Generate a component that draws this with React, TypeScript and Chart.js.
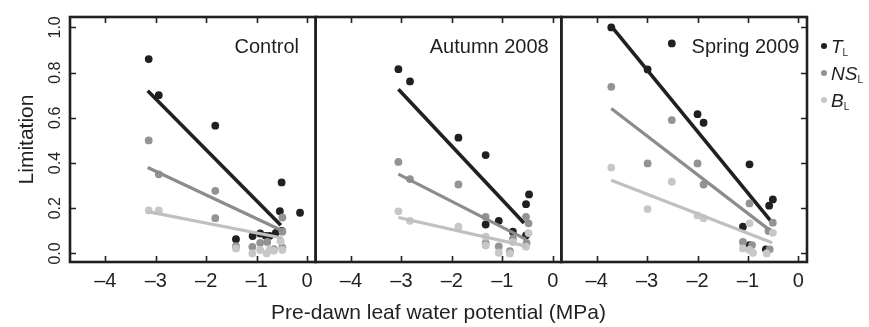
import React, { useEffect, useRef } from 'react';
import { Chart, registerables } from 'chart.js';
Chart.register(...registerables);

const FONT = '"Liberation Sans", Arial, Helvetica, sans-serif';
const INK = '#231f20';
const MID = '#929395';
const LIGHT = '#c6c7c9';
const MID_LINE = '#8b8c8e';
const LIGHT_LINE = '#bfc0c2';

const panelNames = ['Control', 'Autumn 2008', 'Spring 2009'];
const panelAxes = ['x1', 'x2', 'x3'];
const xTickValues = [-4, -3, -2, -1, 0];
const yTickValues = [0, 0.2, 0.4, 0.6, 0.8, 1.0];
const xTitle = 'Pre-dawn leaf water potential (MPa)';
const yTitle = 'Limitation';
const legendMain = ['T', 'NS', 'B'];
const legendSub = ['L', 'L', 'L'];

// ---- Control ----
const controlTx = [-3.14, -2.94, -1.82, -1.41, -1.08, -0.93, -0.82, -0.74, -0.62, -0.54, -0.505, -0.14, -0.5];
const controlTy = [0.86, 0.70, 0.565, 0.063, 0.077, 0.088, 0.078, 0.078, 0.091, 0.187, 0.314, 0.18, 0.10];
const controlNx = [-3.14, -2.94, -1.82, -1.82, -1.41, -1.085, -0.93, -0.79, -0.66, -0.49, -0.49, -0.49];
const controlNy = [0.50, 0.35, 0.277, 0.156, 0.032, 0.029, 0.047, 0.051, 0.019, 0.159, 0.096, 0.025];
const controlBx = [-3.14, -2.94, -1.41, -1.085, -0.93, -0.80, -0.74, -0.66, -0.525, -0.49];
const controlBy = [0.19, 0.19, 0.022, 0.0, 0.015, 0.0, 0.018, 0.012, 0.054, 0.015];
const controlTLineX = [-3.16, -0.52];
const controlTLineY = [0.72, 0.125];
const controlNLineX = [-3.16, -0.49];
const controlNLineY = [0.38, 0.10];
const controlBLineX = [-3.16, -0.49];
const controlBLineY = [0.185, 0.068];

// ---- Autumn 2008 ----
const autumnTx = [-3.06, -2.83, -1.87, -1.33, -1.33, -1.07, -0.79, -0.47, -0.53, -0.53];
const autumnTy = [0.815, 0.761, 0.512, 0.435, 0.128, 0.144, 0.096, 0.261, 0.218, 0.08];
const autumnNx = [-3.06, -2.83, -1.87, -1.33, -1.33, -1.07, -0.85, -0.79, -0.53, -0.48, -0.52];
const autumnNy = [0.405, 0.329, 0.305, 0.162, 0.045, 0.031, 0.01, 0.065, 0.162, 0.133, 0.046];
const autumnBx = [-3.06, -2.83, -1.87, -1.33, -1.33, -1.07, -0.85, -0.79, -0.48, -0.53];
const autumnBy = [0.186, 0.144, 0.118, 0.074, 0.035, 0.003, 0.0, 0.05, 0.09, 0.03];
const autumnTLineX = [-3.06, -0.57];
const autumnTLineY = [0.726, 0.135];
const autumnNLineX = [-3.06, -0.53];
const autumnNLineY = [0.351, 0.062];
const autumnBLineX = [-3.06, -0.53];
const autumnBLineY = [0.159, 0.032];

// ---- Spring 2009 ----
const springTx = [-3.71, -2.99, -2.51, -2.0, -1.88, -0.97, -1.10, -0.97, -0.58, -0.507, -0.645];
const springTy = [1.0, 0.814, 0.929, 0.616, 0.578, 0.394, 0.118, 0.037, 0.211, 0.239, 0.018];
const springNx = [-3.71, -2.99, -2.51, -2.0, -1.88, -0.97, -1.10, -0.92, -0.594, -0.507, -0.57];
const springNy = [0.737, 0.398, 0.59, 0.398, 0.305, 0.221, 0.051, 0.037, 0.099, 0.136, 0.018];
const springBx = [-3.71, -2.99, -2.51, -2.0, -1.88, -0.97, -1.10, -0.97, -0.9, -0.507, -0.63];
const springBy = [0.38, 0.196, 0.317, 0.168, 0.156, 0.133, 0.022, 0.015, 0.003, 0.091, 0.0];
const springTLineX = [-3.71, -0.55];
const springTLineY = [1.006, 0.144];
const springNLineX = [-3.71, -0.57];
const springNLineY = [0.641, 0.103];
const springBLineX = [-3.71, -0.52];
const springBLineY = [0.324, 0.047];

const X_MIN = -4.7;
const X_MAX = 0.17;
const Y_MIN = -0.038;
const Y_MAX = 1.046;

const panels = [
  {
    axis: 'x1',
    series: [
      { x: controlTx, y: controlTy, lx: controlTLineX, ly: controlTLineY },
      { x: controlNx, y: controlNy, lx: controlNLineX, ly: controlNLineY },
      { x: controlBx, y: controlBy, lx: controlBLineX, ly: controlBLineY },
    ],
  },
  {
    axis: 'x2',
    series: [
      { x: autumnTx, y: autumnTy, lx: autumnTLineX, ly: autumnTLineY },
      { x: autumnNx, y: autumnNy, lx: autumnNLineX, ly: autumnNLineY },
      { x: autumnBx, y: autumnBy, lx: autumnBLineX, ly: autumnBLineY },
    ],
  },
  {
    axis: 'x3',
    series: [
      { x: springTx, y: springTy, lx: springTLineX, ly: springTLineY },
      { x: springNx, y: springNy, lx: springNLineX, ly: springNLineY },
      { x: springBx, y: springBy, lx: springBLineX, ly: springBLineY },
    ],
  },
];

const seriesStyle = [
  { pt: INK, line: INK, w: 3.6 },
  { pt: MID, line: MID_LINE, w: 3.2 },
  { pt: LIGHT, line: LIGHT_LINE, w: 3.2 },
];

function buildDatasets() {
  const ds: any[] = [];
  panels.forEach((p) => {
    p.series.forEach((s, k) => {
      ds.push({
        type: 'scatter',
        xAxisID: p.axis,
        yAxisID: 'y',
        data: s.x.map((v, i) => ({ x: v, y: s.y[i] })),
        pointRadius: 3.9,
        pointHoverRadius: 3.9,
        pointBackgroundColor: seriesStyle[k].pt,
        pointBorderWidth: 0,
        borderWidth: 0,
        showLine: false,
        order: 6 - k * 2,
      });
      ds.push({
        type: 'scatter',
        xAxisID: p.axis,
        yAxisID: 'y',
        data: s.lx.map((v, i) => ({ x: v, y: s.ly[i] })),
        showLine: true,
        borderColor: seriesStyle[k].line,
        borderWidth: seriesStyle[k].w,
        pointRadius: 0,
        order: 5 - k * 2,
      });
    });
  });
  return ds;
}

const fmtX = (v: number) => (v === 0 ? '0' : (v < 0 ? '\u2013' : '') + Math.abs(v));

const labelAnchorX = [-0.16, -0.08, 0.02];

const overlay = {
  id: 'overlay',
  afterDatasetsDraw(chart: any) {
    const ctx = chart.ctx;
    const { top, bottom, left, right } = chart.chartArea;
    const y = chart.scales.y;
    ctx.save();
    ctx.strokeStyle = INK;
    ctx.fillStyle = INK;
    panelAxes.forEach((id, i) => {
      const s = chart.scales[id];
      ctx.lineWidth = 2.6;
      ctx.strokeRect(s.left, top, s.right - s.left, bottom - top);
      ctx.lineWidth = 1.6;
      xTickValues.forEach((v) => {
        const px = Math.round(s.getPixelForValue(v)) + 0.5;
        ctx.beginPath();
        ctx.moveTo(px, bottom);
        ctx.lineTo(px, bottom - 6);
        ctx.moveTo(px, top);
        ctx.lineTo(px, top + 6);
        ctx.stroke();
      });
      ctx.font = `20px ${FONT}`;
      ctx.textAlign = 'right';
      ctx.textBaseline = 'alphabetic';
      ctx.fillText(panelNames[i], s.getPixelForValue(labelAnchorX[i]), 53);
    });
    // y ticks inward: left of panel 1, right of panel 3
    const sL = chart.scales.x1;
    const sR = chart.scales.x3;
    ctx.lineWidth = 1.6;
    yTickValues.forEach((v) => {
      const py = Math.round(y.getPixelForValue(v)) + 0.5;
      ctx.beginPath();
      ctx.moveTo(sL.left, py);
      ctx.lineTo(sL.left + 6, py);
      ctx.moveTo(sR.right, py);
      ctx.lineTo(sR.right - 6, py);
      ctx.stroke();
    });
    // y tick labels (rotated)
    ctx.font = `16px ${FONT}`;
    ctx.textAlign = 'center';
    ctx.textBaseline = 'alphabetic';
    yTickValues.forEach((v) => {
      const py = y.getPixelForValue(v);
      ctx.save();
      ctx.translate(60, py);
      ctx.rotate(-Math.PI / 2);
      ctx.fillText(v.toFixed(1), 0, 0);
      ctx.restore();
    });
    // y title
    ctx.font = `21px ${FONT}`;
    ctx.save();
    ctx.translate(33, (top + bottom) / 2);
    ctx.rotate(-Math.PI / 2);
    ctx.fillText(yTitle, 0, 0);
    ctx.restore();
    // x title
    ctx.font = `21px ${FONT}`;
    ctx.textAlign = 'center';
    ctx.fillText(xTitle, (left + right) / 2, 319);
    // legend
    const cols = [INK, MID, LIGHT];
    const rowsY = [46, 73, 100];
    legendMain.forEach((m, i) => {
      ctx.fillStyle = cols[i];
      ctx.beginPath();
      ctx.arc(824, rowsY[i], 3, 0, Math.PI * 2);
      ctx.fill();
      ctx.fillStyle = INK;
      ctx.textAlign = 'left';
      ctx.font = `italic 19px ${FONT}`;
      const bx = 831;
      const by = rowsY[i] + 7;
      ctx.fillText(m, bx, by);
      const w = ctx.measureText(m).width;
      ctx.font = `10px ${FONT}`;
      ctx.fillText(legendSub[i], bx + w, by + 3);
    });
    ctx.restore();
  },
};

function xScale() {
  return {
    type: 'linear',
    position: 'bottom',
    stack: 'panels',
    stackWeight: 1,
    min: X_MIN,
    max: X_MAX,
    grid: { display: false, drawTicks: false },
    border: { display: false },
    afterBuildTicks: (s: any) => {
      s.ticks = xTickValues.map((v) => ({ value: v }));
    },
    afterFit: (s: any) => {
      s.height = 65;
    },
    ticks: {
      autoSkip: false,
      maxRotation: 0,
      minRotation: 0,
      padding: 7,
      color: INK,
      font: { family: FONT, size: 20 },
      callback: (v: any) => fmtX(Number(v)),
    },
    title: { display: false },
  };
}

export default function App() {
  const ref = useRef<HTMLCanvasElement>(null);
  useEffect(() => {
    if (!ref.current) return;
    const chart = new Chart(ref.current, {
      type: 'scatter',
      data: { datasets: buildDatasets() },
      options: {
        animation: false,
        responsive: false,
        devicePixelRatio: 1,
        events: [],
        layout: { padding: { left: 70, right: 62, top: 17, bottom: 0 } },
        plugins: { legend: { display: false }, tooltip: { enabled: false }, title: { display: false } },
        scales: {
          x1: xScale(),
          x2: xScale(),
          x3: xScale(),
          y: {
            type: 'linear',
            display: false,
            min: Y_MIN,
            max: Y_MAX,
          },
        } as any,
      },
      plugins: [overlay],
    } as any);
    return () => chart.destroy();
  }, []);
  return (
    <div style={{ position: 'fixed', left: 0, top: 0, width: 869, height: 327, background: '#fff' }}>
      <canvas ref={ref} width={869} height={327} style={{ display: 'block' }} />
    </div>
  );
}
